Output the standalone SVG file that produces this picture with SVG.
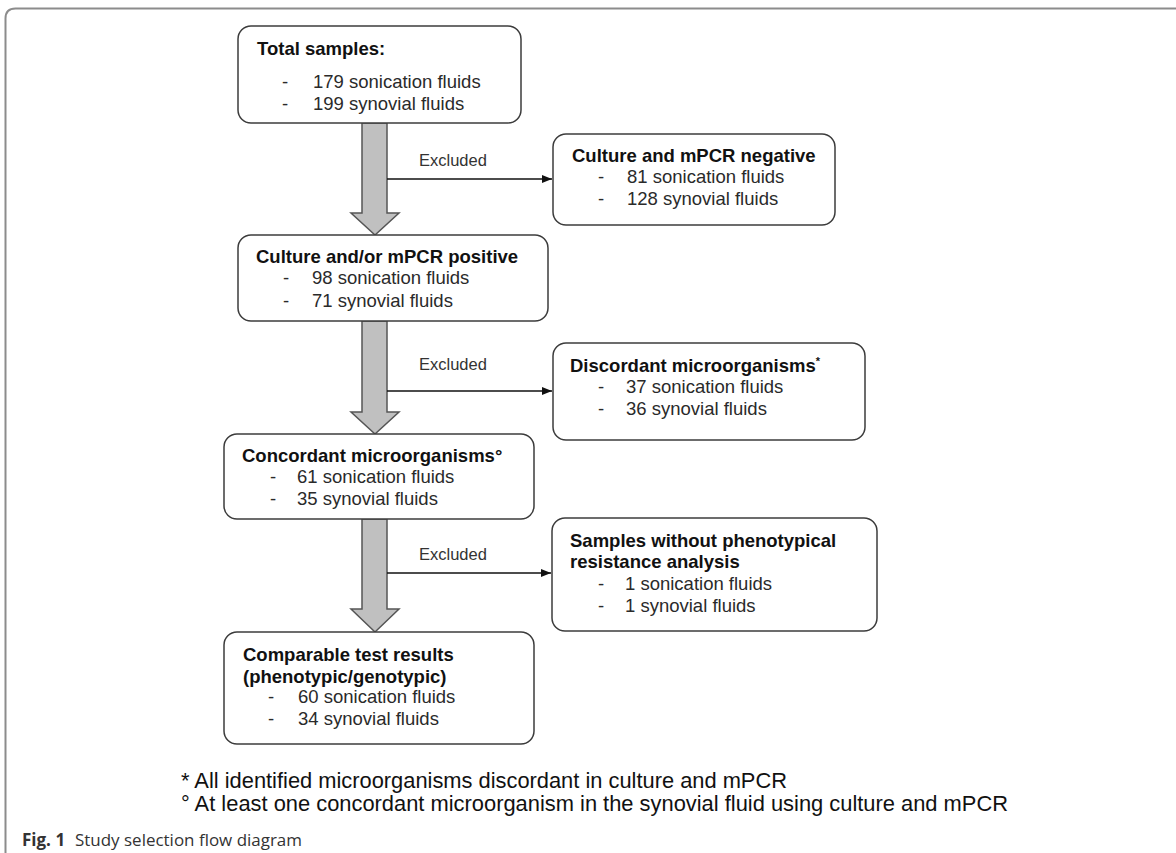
<svg xmlns="http://www.w3.org/2000/svg" width="1176" height="853" viewBox="0 0 1176 853">
<style>
.box{fill:#fff;stroke:#3c3c3c;stroke-width:1.5}
.ttl{font-family:"Liberation Sans",Arial,sans-serif;font-weight:bold;font-size:18.5px;fill:#111}
.txt{font-family:"Liberation Sans",Arial,sans-serif;font-size:18.5px;fill:#2a2a2a}
.exc{font-family:"Liberation Sans",Arial,sans-serif;font-size:16.5px;fill:#333}
.blk{fill:#c0c0c0;stroke:#555;stroke-width:1.5}
.con{stroke:#111;stroke-width:1.5;fill:none}
.fn{font-family:"Liberation Sans",Arial,sans-serif;font-size:21.5px;fill:#111}
.cap{font-family:"Open Sans","Liberation Sans",sans-serif;font-size:17px;fill:#333}
</style>
<defs>
<marker id="ah" markerWidth="11" markerHeight="10" refX="10" refY="5" orient="auto" markerUnits="userSpaceOnUse">
<path d="M0,1 L10,5 L0,9 Z" fill="#111"/>
</marker>
</defs>
<rect width="1176" height="853" fill="#fff"/>
<path d="M5.5,853 V18.5 Q5.5,8.5 15.5,8.5 H1176" fill="none" stroke="#8c8c8c" stroke-width="2"/>

<g id="connectors">
<path class="blk" d="M362,123 H387 V213 H399 L375,235 L351,213 H362 Z"/>
<path class="blk" d="M362,321 H387 V412 H399 L375,434 L351,412 H362 Z"/>
<path class="blk" d="M362,519 H387 V609 H399 L375,632 L351,609 H362 Z"/>
<line class="con" x1="387" y1="179" x2="552" y2="179" marker-end="url(#ah)"/>
<line class="con" x1="387" y1="391" x2="552" y2="391" marker-end="url(#ah)"/>
<line class="con" x1="387" y1="573" x2="551" y2="573" marker-end="url(#ah)"/>
<text class="exc" x="419" y="166">Excluded</text>
<text class="exc" x="419" y="370">Excluded</text>
<text class="exc" x="419" y="560">Excluded</text>
</g>

<g id="total">
<rect class="box" x="238" y="26" width="283" height="97" rx="13"/>
<text class="ttl" x="257" y="55">Total samples:</text>
<text class="txt" x="282" y="88">-</text>
<text class="txt" x="313" y="88">179 sonication fluids</text>
<text class="txt" x="282" y="110">-</text>
<text class="txt" x="313" y="110">199 synovial fluids</text>
</g>

<g id="negative">
<rect class="box" x="553" y="134" width="282" height="91" rx="13"/>
<text class="ttl" x="572" y="162">Culture and mPCR negative</text>
<text class="txt" x="598" y="183">-</text>
<text class="txt" x="627" y="183">81 sonication fluids</text>
<text class="txt" x="598" y="205">-</text>
<text class="txt" x="627" y="205">128 synovial fluids</text>
</g>

<g id="positive">
<rect class="box" x="238" y="235" width="310" height="86" rx="13"/>
<text class="ttl" x="256" y="263">Culture and/or mPCR positive</text>
<text class="txt" x="283" y="284">-</text>
<text class="txt" x="312" y="284">98 sonication fluids</text>
<text class="txt" x="283" y="307">-</text>
<text class="txt" x="312" y="307">71 synovial fluids</text>
</g>

<g id="discordant">
<rect class="box" x="553" y="343" width="312" height="97" rx="13"/>
<text class="ttl" x="570" y="372">Discordant microorganisms<tspan font-size="11" dy="-7">*</tspan></text>
<text class="txt" x="598" y="393">-</text>
<text class="txt" x="626" y="393">37 sonication fluids</text>
<text class="txt" x="598" y="415">-</text>
<text class="txt" x="626" y="415">36 synovial fluids</text>
</g>

<g id="concordant">
<rect class="box" x="224" y="434" width="310" height="85" rx="13"/>
<text class="ttl" x="242" y="462">Concordant microorganisms°</text>
<text class="txt" x="270" y="483">-</text>
<text class="txt" x="297" y="483">61 sonication fluids</text>
<text class="txt" x="270" y="505">-</text>
<text class="txt" x="297" y="505">35 synovial fluids</text>
</g>

<g id="without">
<rect class="box" x="552" y="518" width="325" height="113" rx="13"/>
<text class="ttl" x="570" y="547">Samples without phenotypical</text>
<text class="ttl" x="570" y="568">resistance analysis</text>
<text class="txt" x="598" y="590">-</text>
<text class="txt" x="625" y="590">1 sonication fluids</text>
<text class="txt" x="598" y="612">-</text>
<text class="txt" x="625" y="612">1 synovial fluids</text>
</g>

<g id="comparable">
<rect class="box" x="224" y="632" width="310" height="112" rx="13"/>
<text class="ttl" x="243" y="661">Comparable test results</text>
<text class="ttl" x="243" y="683">(phenotypic/genotypic)</text>
<text class="txt" x="268" y="703">-</text>
<text class="txt" x="298" y="703">60 sonication fluids</text>
<text class="txt" x="268" y="725">-</text>
<text class="txt" x="298" y="725">34 synovial fluids</text>
</g>

<g id="footnotes">
<text class="fn" x="181" y="788" textLength="606" lengthAdjust="spacingAndGlyphs">* All identified microorganisms discordant in culture and mPCR</text>
<text class="fn" x="181" y="811" textLength="827" lengthAdjust="spacingAndGlyphs">° At least one concordant microorganism in the synovial fluid using culture and mPCR</text>
</g>

<g id="caption">
<text class="cap" x="22" y="846" font-weight="bold" fill="#222">Fig. 1</text>
<text class="cap" x="75" y="846" textLength="227" lengthAdjust="spacingAndGlyphs">Study selection flow diagram</text>
</g>
</svg>
